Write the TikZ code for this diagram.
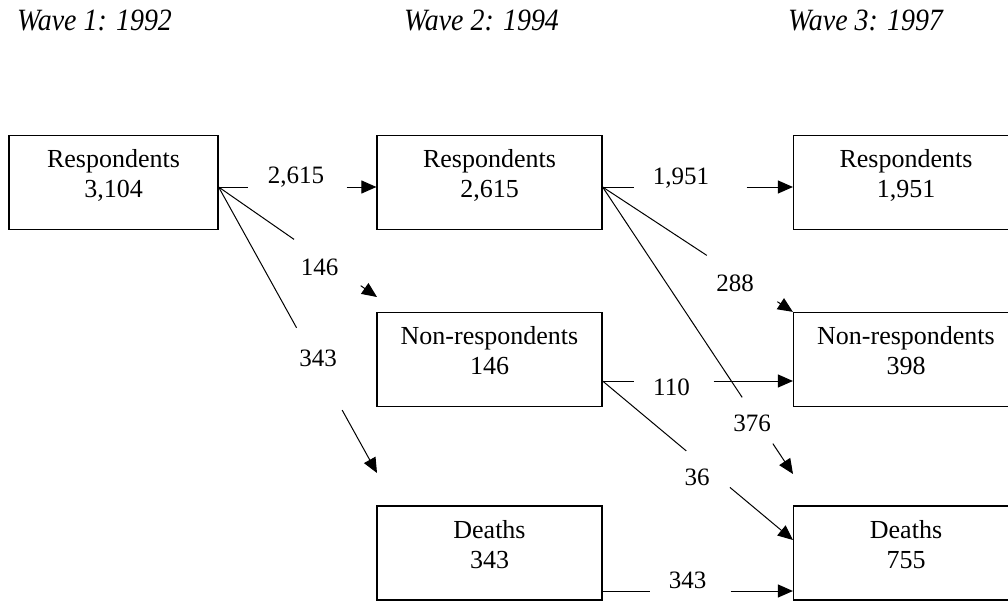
\documentclass[tikz,border=0pt]{standalone}
\usepackage{fontspec}
\setmainfont{Liberation Serif}
\newfontfamily\wavefont[FakeStretch=0.9]{Liberation Serif}
\usetikzlibrary{arrows.meta}
\tikzset{
  box/.style={draw, line width=1.2pt, minimum width=225pt, minimum height=94pt, inner sep=0pt,
    align=center, text height=47pt, text depth=17pt, font=\fontsize{26}{30}\selectfont},
  wave/.style={anchor=base west, inner sep=0pt, font=\wavefont\itshape\fontsize{31}{31}\selectfont},
  num/.style={anchor=base, inner sep=0pt, font=\fontsize{25}{30}\selectfont},
  line/.style={line width=1pt},
  arrow/.style={line width=1pt, -{Triangle[length=15pt,width=13pt]}}
}
\begin{document}
\begin{tikzpicture}[x=1pt,y=-1pt]
\useasboundingbox (0,0) rectangle (1008,604);
\clip (0,0) rectangle (1008,604);
\node[wave] (w1) at (17,31) {Wave 1: 1992};
\node[wave] (w2) at (404,31) {Wave 2: 1994};
\node[wave] (w3) at (788,31) {Wave 3: 1997};
%
\node[box, minimum width=209pt] (r1) at (113.5,182.5) {Respondents\\3,104};
\node[box] (r2) at (489.5,182.5) {Respondents\\2,615};
\node[box] (n2) at (489.5,359.5) {Non-respondents\\146};
\node[box] (d2) at (489.5,553) {Deaths\\343};
\node[box] (r3) at (906,182.5) {Respondents\\1,951};
\node[box] (n3) at (906,359.5) {Non-respondents\\398};
\node[box] (d3) at (906,553) {Deaths\\755};
%
\coordinate (r1o) at ([yshift=-4.5pt]r1.east);
\coordinate (r2o) at ([yshift=-4.5pt]r2.east);
\coordinate (n2o) at ([yshift=-21.5pt]n2.east);
\coordinate (d2o) at ([yshift=-38pt]d2.east);
\coordinate (n2t) at (377,297);
\coordinate (d2t) at (377,473);
\coordinate (d3t) at (793,474);
%
\draw[line, shorten >=128pt] (r1o) -- ([yshift=-4.5pt]r2.west);
\draw[arrow, shorten <=128pt] (r1o) -- ([yshift=-4.5pt]r2.west);
\node[num] (l2615) at (296,183) {2,615};
\draw[line, shorten >=101pt] (r1o) -- (n2t);
\draw[arrow, shorten <=173pt] (r1o) -- (n2t);
\node[num] (l146) at (319.5,275) {146};
\draw[line, shorten >=166pt] (r1o) -- (d2t);
\draw[arrow, shorten <=255pt] (r1o) -- (d2t);
\node[num] (l343a) at (318,366) {343};
%
\draw[line, shorten >=159pt] (r2o) -- ([yshift=-4.5pt]r3.west);
\draw[arrow, shorten <=144pt] (r2o) -- ([yshift=-4.5pt]r3.west);
\node[num] (l1951) at (681,185) {1,951};
\draw[line, shorten >=103pt] (r2o) -- (n3.north west);
\draw[arrow, shorten <=209pt] (r2o) -- (n3.north west);
\node[num] (l288) at (735,291) {288};
\draw[line, shorten >=92pt] (r2o) -- (d3t);
\draw[arrow, shorten <=308pt] (r2o) -- (d3t);
\node[num] (l376) at (752,431) {376};
%
\draw[line, shorten >=159pt] (n2o) -- ([yshift=-21.5pt]n3.west);
\draw[arrow, shorten <=111pt] (n2o) -- ([yshift=-21.5pt]n3.west);
\node[num] (l110) at (671.5,395) {110};
\draw[line, shorten >=139pt] (n2o) -- ([yshift=13pt]d3.west);
\draw[arrow, shorten <=166pt] (n2o) -- ([yshift=13pt]d3.west);
\node[num] (l36) at (697,485) {36};
%
\draw[line, shorten >=143pt] (d2o) -- ([yshift=-38pt]d3.west);
\draw[arrow, shorten <=128pt] (d2o) -- ([yshift=-38pt]d3.west);
\node[num] (l343b) at (687.5,588) {343};
\end{tikzpicture}
\end{document}
